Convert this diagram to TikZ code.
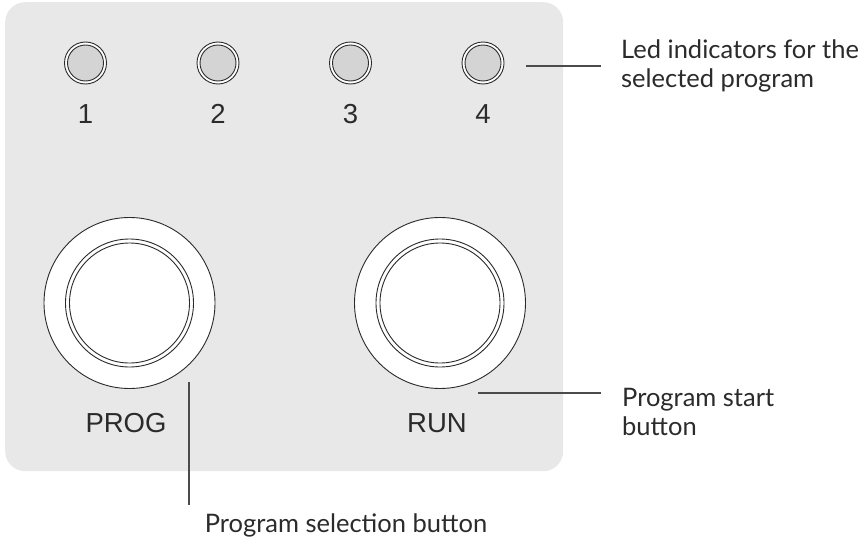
\documentclass[tikz,border=0pt]{standalone}
\usepackage{fontspec}
\setmainfont{Lato}
\newfontfamily\panelfont{Liberation Sans}
\definecolor{panelgray}{HTML}{E8E8E8}
\definecolor{ledgray}{HTML}{D4D4D4}
\definecolor{ink}{HTML}{2B2B2B}
\begin{document}
\begin{tikzpicture}[x=1pt,y=-1pt,
  outline/.style={draw=ink, line width=0.9pt, circle, inner sep=0pt},
  leader/.style={draw=ink!85, line width=1.3pt},
  lbl/.style={font=\fontsize{25.5}{29}\selectfont, text=ink, inner sep=0pt, anchor=base west},
  paneltext/.style={font=\panelfont\fontsize{27.5}{30}\selectfont, text=ink, inner sep=0pt, anchor=base},
]
\useasboundingbox (0,0) rectangle (868,538);
\fill[white] (0,0) rectangle (868,538);
\node[fill=panelgray, rounded corners=20pt, minimum width=558pt, minimum height=469pt, anchor=north west, inner sep=0pt] (panel) at (5,2) {};
\foreach \i/\x in {1/85.5,2/218,3/350.5,4/483}{
  \node[outline, fill=white, minimum size=42pt] (led\i) at (\x,63) {};
  \node[outline, fill=ledgray, minimum size=36pt] (ledin\i) at (led\i) {};
  \node[paneltext] (num\i) at (\x,123) {\i};
}
\foreach \n/\x in {prog/129.5,run/440}{
  \node[outline, fill=white, minimum size=171pt] (\n) at (\x,303) {};
  \node[outline, fill=white, minimum size=128pt] (\n mid) at (\n) {};
  \node[outline, fill=white, minimum size=120pt] (\n in) at (\n) {};
}
\node[paneltext] (progtxt) at (126,432) {PROG};
\node[paneltext] (runtxt) at (437,432) {RUN};
% labels
\node[lbl] (ledlblA) at (621,58) {Led indicators for the};
\node[lbl] (ledlblB) at (621,87) {selected program};
\node[lbl] (runlblA) at (622,406) {Program start};
\node[lbl] (runlblB) at (622,435) {button};
\node[lbl, anchor=base] (proglbl) at (346,532) {Program selection button};
% leader lines
\coordinate (ledS) at (526,66);
\coordinate (ledE) at (601,66);
\coordinate (runS) at (478,393);
\coordinate (runE) at (601,393);
\coordinate (progS) at (189,382);
\coordinate (progE) at (189,505);
\draw[leader] (ledS) -- (ledE);
\draw[leader] (runS) -- (runE);
\draw[leader] (progS) -- (progE);
\end{tikzpicture}
\end{document}
